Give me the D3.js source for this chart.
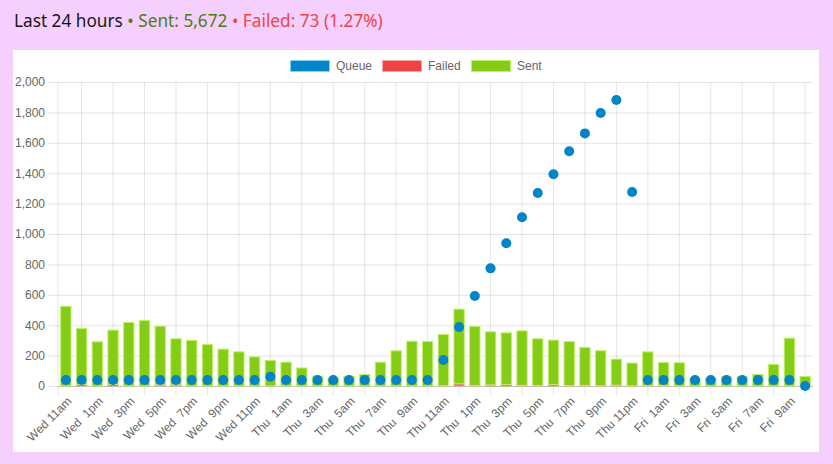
<html>
<head>
<script src="https://d3js.org/d3.v7.min.js"></script>
<style>
  body { margin: 0; background: #f5d0fe; }
  svg { display: block; }
</style>
</head>
<body>
<svg id="chart" width="833" height="464"></svg>
<script>

    // hourly buckets, Wed 11am .. Fri 10am
    var hours = ["Wed 11am","Wed 12pm","Wed  1pm","Wed  2pm","Wed  3pm","Wed  4pm","Wed  5pm","Wed  6pm",
        "Wed  7pm","Wed  8pm","Wed  9pm","Wed 10pm","Wed 11pm","Thu 12am","Thu  1am","Thu  2am",
        "Thu  3am","Thu  4am","Thu  5am","Thu  6am","Thu  7am","Thu  8am","Thu  9am","Thu 10am",
        "Thu 11am","Thu 12pm","Thu  1pm","Thu  2pm","Thu  3pm","Thu  4pm","Thu  5pm","Thu  6pm",
        "Thu  7pm","Thu  8pm","Thu  9pm","Thu 10pm","Thu 11pm","Fri 12am","Fri  1am","Fri  2am",
        "Fri  3am","Fri  4am","Fri  5am","Fri  6am","Fri  7am","Fri  8am","Fri  9am","Fri 10am"];

    var sent = [528, 372, 294, 361, 421, 434, 389, 306, 303, 276, 246, 228, 195, 171, 160, 122,
        68, 52, 68, 79, 160, 235, 298, 296, 340, 495, 392, 352, 343, 362, 311, 295,
        293, 253, 233, 175, 153, 226, 156, 156, 55, 55, 64, 64, 79, 145, 318, 66];

    var failed = [0, 10, 0, 10, 0, 0, 8, 8, 0, 0, 0, 0, 0, 0, 0, 0,
        0, 0, 0, 0, 0, 0, 0, 0, 2, 14, 3, 8, 10, 4, 3, 10,
        3, 4, 2, 5, 1, 2, 2, 0, 0, 0, 0, 0, 0, 0, 0, 0];

    var queue = [40, 40, 40, 40, 40, 40, 40, 40, 40, 40, 40, 40, 40, 61, 40, 40,
        40, 40, 40, 40, 40, 40, 40, 40, 171, 388, 592, 774, 939, 1110, 1270, 1393,
        1544, 1662, 1796, 1882, 1276, 40, 40, 40, 40, 40, 40, 40, 40, 40, 40, 0];

    var yTicks = [0, 200, 400, 600, 800, 1000, 1200, 1400, 1600, 1800, 2000];

    var legendItems = [
        {name: "Queue", color: "#0284c7", border: "#7dd3fc"},
        {name: "Failed", color: "#ef4444", border: "#fca5a5"},
        {name: "Sent", color: "#84cc16", border: "#bef264"}
    ];

    var svg = d3.select("#chart");
    var font = "'Liberation Sans', Arial, Helvetica, sans-serif";

    //--------------------------title-------------------------
    var title = svg.append("text")
        .attr("x", 14)
        .attr("y", 27)
        .attr("font-family", "'Noto Sans', sans-serif")
        .attr("font-size", 18);
    title.append("tspan").attr("fill", "#171717").text("Last 24 hours");
    title.append("tspan").attr("fill", "#4d7c0f").text(" \u2022 Sent: 5,672");
    title.append("tspan").attr("fill", "#ef4444").text(" \u2022 Failed: 73 (1.27%)");
    // fit to the width seen in the reference
    var tw = title.node().getComputedTextLength();
    title.attr("font-size", 18 * 369 / tw);

    //--------------------------card-------------------------
    svg.append("rect")
        .attr("x", 13).attr("y", 50)
        .attr("width", 806).attr("height", 402)
        .attr("fill", "#fff");

    var plotLeft = 58, plotRight = 813, plotTop = 82, plotBottom = 386;

    var idx = d3.range(hours.length);
    var xBand = d3.scaleBand().domain(idx).range([plotLeft, plotRight]).paddingInner(0.28).paddingOuter(0.14);
    var xPoint = d3.scalePoint().domain(idx).range([plotLeft, plotRight]).padding(0.5);
    var y = d3.scaleLinear().domain([0, 2000]).range([plotBottom, plotTop]);

    // gridlines between the shown labels
    var gridIdx = idx.filter(function (i) { return i % 2 == 1; });
    var labelIdx = idx.filter(function (i) { return i % 2 == 0; });

    var grid = svg.append("g");
    grid.selectAll("line.v")
        .data(gridIdx)
        .enter().append("line")
        .attr("x1", function (d) { return xPoint(d); })
        .attr("x2", function (d) { return xPoint(d); })
        .attr("y1", plotTop)
        .attr("y2", plotBottom + 9)
        .attr("stroke", "rgba(0,0,0,0.1)");
    grid.append("line")
        .attr("x1", plotLeft).attr("x2", plotLeft)
        .attr("y1", plotTop).attr("y2", plotBottom + 9)
        .attr("stroke", "rgba(0,0,0,0.1)");

    // y axis with gridlines
    var yAxis = svg.append("g")
        .attr("transform", "translate(" + plotLeft + ",0)")
        .call(d3.axisLeft(y).tickValues(yTicks).tickSize(10).tickPadding(3).tickFormat(d3.format(",")));
    yAxis.select(".domain").remove();
    yAxis.selectAll(".tick line").attr("stroke", "rgba(0,0,0,0.1)");
    yAxis.selectAll(".tick").append("line")
        .attr("x1", 0).attr("x2", plotRight - plotLeft)
        .attr("stroke", function (d) { return d == 0 ? "rgba(0,0,0,0.25)" : "rgba(0,0,0,0.1)"; });
    yAxis.selectAll("text")
        .attr("fill", "#666")
        .attr("font-size", 12)
        .attr("font-family", font);

    // x axis labels
    var xAxis = svg.append("g")
        .attr("transform", "translate(0," + plotBottom + ")")
        .call(d3.axisBottom(xPoint).tickValues(labelIdx).tickSize(0).tickFormat(function (i) { return hours[i]; }));
    xAxis.select(".domain").remove();
    xAxis.selectAll("text")
        .attr("fill", "#666")
        .attr("font-size", 12)
        .attr("font-family", font)
        .attr("text-anchor", "end")
        .attr("dy", "0.35em")
        .attr("y", 0)
        .style("white-space", "pre")
        .attr("transform", "translate(3,13) rotate(-45)");

    //--------------------------bars-------------------------
    var bars = svg.append("g");
    bars.selectAll("rect.failed")
        .data(idx)
        .enter().append("rect")
        .attr("class", "failed")
        .attr("x", function (i) { return xBand(i) + 0.5; })
        .attr("width", xBand.bandwidth() - 1)
        .attr("y", function (i) { return y(failed[i]); })
        .attr("height", function (i) { return y(0) - y(failed[i]); })
        .attr("fill", "#ef4444")
        .attr("stroke", "#fca5a5")
        .attr("stroke-width", function (i) { return failed[i] > 0 ? 1 : 0; });

    bars.selectAll("rect.sent")
        .data(idx)
        .enter().append("rect")
        .attr("class", "sent")
        .attr("x", function (i) { return xBand(i) + 0.5; })
        .attr("width", xBand.bandwidth() - 1)
        .attr("y", function (i) { return y(failed[i] + sent[i]) + 0.5; })
        .attr("height", function (i) { return y(failed[i]) - y(failed[i] + sent[i]) - 0.5; })
        .attr("fill", "#84cc16")
        .attr("stroke", "#bef264")
        .attr("stroke-width", 1);

    //--------------------------queue points-------------------------
    svg.append("g").selectAll("circle")
        .data(idx)
        .enter().append("circle")
        .attr("cx", function (i) { return xPoint(i); })
        .attr("cy", function (i) { return y(queue[i]); })
        .attr("r", 5)
        .attr("fill", "#0284c7");

    //--------------------------legend-------------------------
    var legendX = [290, 382, 471];
    var legend = svg.append("g").selectAll("g")
        .data(legendItems)
        .enter().append("g")
        .attr("transform", function (d, i) { return "translate(" + legendX[i] + ",60)"; });
    legend.append("rect")
        .attr("x", 0.5).attr("y", 0.5)
        .attr("width", 39).attr("height", 11)
        .attr("fill", function (d) { return d.color; })
        .attr("stroke", function (d) { return d.border; });
    legend.append("text")
        .attr("x", 46)
        .attr("y", 10)
        .attr("fill", "#666")
        .attr("font-size", 12)
        .attr("font-family", font)
        .text(function (d) { return d.name; });

</script>
</body>
</html>
